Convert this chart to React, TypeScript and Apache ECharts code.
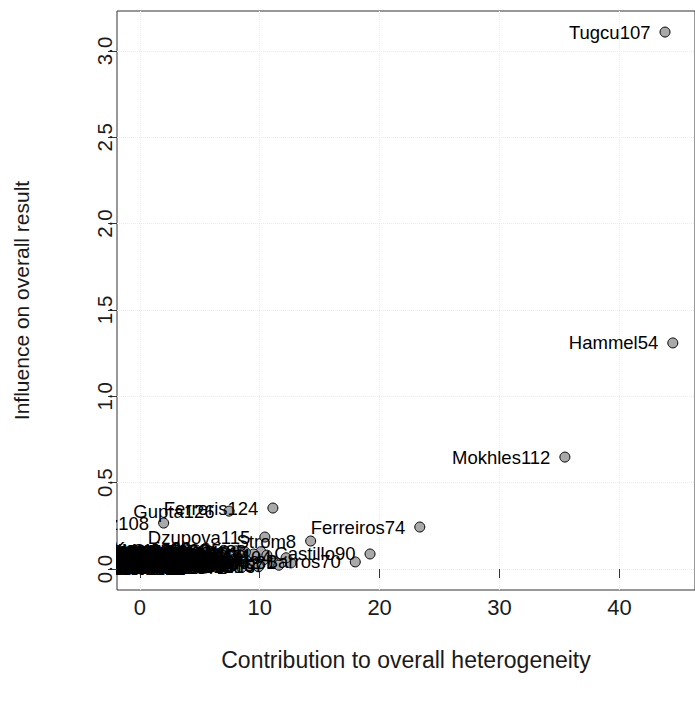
import React, { useEffect, useRef } from "react";
import * as echarts from "echarts";

// Study labels, contribution to heterogeneity (x) and influence on overall result (y)
const studlab = [
  "Abbas1", "Adams2", "Ahmed3", "Alvarez4", "Andersen5", "Baker6", "Becker7", "Strom8", "Bianchi9", "Brown10",
  "Carter11", "Chen12", "Costa13", "Cruz14", "Davis15", "Dubois16", "Eriksson17", "Evans18", "Fischer19", "Garcia20",
  "Gomez21", "Gonzalez22", "Hansen23", "Harris24", "Hoffmann25", "Huang26", "Ito27", "Jensen28", "Johnson29", "Jones30",
  "Kato31", "Kaya32", "Keller33", "Khan34", "Kim35", "Koenig36", "Kowalski37", "Kumar38", "Larsen39", "Laurent40",
  "Lee41", "Li42", "Liu43", "Lopez44", "Martin45", "Meyer46", "Miller47", "Moreno48", "Muller49", "Nakamura50",
  "Nguyen51", "Nielsen52", "Novak53", "Hammel54", "Olsen55", "Ortiz56", "Park57", "Patel58", "Perez59", "Petrov60",
  "Rossi61", "Russo62", "Sato63", "Schmidt64", "Schneider65", "Silva66", "Smith67", "Suzuki68", "Tanaka69", "Barros70",
  "Taylor71", "Thomas72", "Torres73", "Ferreiros74", "Wagner75", "Walker76", "Wang77", "Weber78", "White79", "Wilson80",
  "Wong81", "Wu82", "Yamamoto83", "Yang84", "Zhang85", "Zhao86", "Zhou87", "Ziegler88", "Arslan89", "Castillo90",
  "Bauer91", "Berg92", "Blanco93", "Bruno94", "Campos95", "Conti96", "Dahl97", "Diaz98", "Egger99", "Ferrari100",
  "Fuchs101", "Greco102", "Haas103", "Hernandez104", "Iqbal105", "Jung106", "Tugcu107", "Lorenz108", "Marino109", "Molina110",
  "Morales111", "Mokhles112", "Nowak113", "Ozturk114", "Dzupova115", "Pereira116", "Ramos117", "Reyes118", "Richter119", "Rojas120",
  "Santos121", "Serrano122", "Sousa123", "Ferreris124", "Vargas125", "Gupta126",
];

const heterogeneity = [
  0.42, 4.85, 0.15, 6.2, 2.88, 8.6, 0.05, 14.25, 5.4, 3.63,
  7.1, 1.28, 9.8, 4.2, 0.02, 6.7, 2.95, 5.9, 1.33, 9.1,
  4.55, 2.71, 7.6, 0.12, 5.1, 10.3, 3.48, 1.05, 6.45, 2.22,
  8.1, 3.58, 4.7, 0.09, 5.65, 5.5, 4.35, 1.77, 6.9, 0.18,
  8.7, 2.54, 5.25, 3.0, 7.4, 1.36, 9.6, 4.6, 0.07, 5.8,
  3.66, 8.9, 4.9, 44.45, 2.25, 6.1, 3.82, 9.2, 4.45, 1.4,
  5.5, 11.2, 3.93, 7.9, 0.14, 5.0, 11.6, 2.6, 6.6, 17.97,
  4.15, 8.5, 2.45, 23.35, 5.35, 9.4, 3.85, 4.75, 7.25, 1.2,
  12.6, 5.95, 2.52, 8.3, 4.25, 0.1, 6.3, 10.1, 3.7, 19.2,
  5.6, 1.3, 7.7, 4.4, 8.0, 2.8, 5.15, 0.55, 6.8, 3.1,
  9.5, 1.6, 5.75, 12.2, 4.95, 2.38, 43.8, 1.99, 7.0, 3.9,
  10.6, 35.45, 5.45, 8.4, 10.43, 2.55, 6.0, 4.3, 8.8, 1.16,
  9.9, 5.05, 4.65, 11.1, 7.5, 7.45,
];

const influence = [
  0.012, 0.034, 0.006, 0.052, 0.021, 0.071, 0.002, 0.162, 0.045, 0.015,
  0.038, 0.009, 0.058, 0.027, 0.001, 0.064, 0.011, 0.024, 0.018, 0.046,
  0.04, 0.031, 0.083, 0.004, 0.014, 0.052, 0.026, 0.008, 0.029, 0.013,
  0.042, 0.036, 0.061, 0.019, 0.072, 0.12, 0.022, 0.047, 0.017, 0.03,
  0.033, 0.005, 0.058, 0.068, 0.012, 0.044, 0.075, 0.003, 0.024, 0.088,
  0.056, 0.022, 0.01, 1.309, 0.07, 0.041, 0.078, 0.019, 0.053, 0.039,
  0.006, 0.035, 0.062, 0.055, 0.048, 0.082, 0.022, 0.016, 0.091, 0.041,
  0.045, 0.009, 0.06, 0.243, 0.037, 0.028, 0.1, 0.05, 0.066, 0.035,
  0.035, 0.011, 0.08, 0.094, 0.065, 0.057, 0.076, 0.1, 0.028, 0.087,
  0.02, 0.074, 0.026, 0.085, 0.105, 0.043, 0.098, 0.067, 0.079, 0.032,
  0.087, 0.09, 0.05, 0.065, 0.072, 0.084, 3.109, 0.266, 0.108, 0.11,
  0.08, 0.648, 0.115, 0.046, 0.185, 0.103, 0.1, 0.077, 0.097, 0.088,
  0.013, 0.004, 0.112, 0.353, 0.073, 0.335,
];

const xTicks = [0, 10, 20, 30, 40];
const yTicks = [0, 0.5, 1.0, 1.5, 2.0, 2.5, 3.0];

const FONT = "'Liberation Sans', Arial, Helvetica, sans-serif";

export default function App() {
  const ref = useRef<HTMLDivElement>(null);

  useEffect(() => {
    if (!ref.current) return;
    const chart = echarts.init(ref.current, undefined, { renderer: "svg" });
    const data = studlab.map((name, i) => ({ name, value: [heterogeneity[i], influence[i]] }));

    chart.setOption({
      animation: false,
      backgroundColor: "#ffffff",
      grid: {
        left: 117,
        top: 11,
        width: 582,
        height: 579,
        show: true,
        borderColor: "#333333",
        borderWidth: 1,
        backgroundColor: "transparent",
        containLabel: false,
      },
      xAxis: {
        type: "value",
        min: -1.9,
        max: 46.3,
        name: "Contribution to overall heterogeneity",
        nameLocation: "middle",
        nameGap: 58,
        nameTextStyle: { fontFamily: FONT, fontSize: 23, color: "#1a1a1a" },
        axisLine: { show: false },
        axisTick: {
          show: true,
          inside: false,
          length: 9,
          customValues: xTicks,
          lineStyle: { color: "#333333", width: 1 },
        },
        axisLabel: {
          customValues: xTicks,
          margin: 6,
          fontFamily: FONT,
          fontSize: 22,
          color: "#1a1a1a",
        },
        splitLine: {
          show: true,
          lineStyle: { color: "#ebebeb", type: "dotted", width: 1 },
        },
      },
      yAxis: [
        {
          type: "value",
          position: "left",
          min: -0.1216,
          max: 3.231,
          axisLine: { show: false },
          axisTick: { show: false, customValues: yTicks },
          axisLabel: { show: false, customValues: yTicks },
          splitLine: {
            show: true,
            lineStyle: { color: "#ebebeb", type: "dotted", width: 1 },
          },
        },
        {
          type: "value",
          position: "left",
          z: 10,
          min: -0.1216,
          max: 3.231,
          name: "Influence on overall result",
          nameLocation: "middle",
          nameGap: 85,
          nameRotate: 90,
          nameTextStyle: { fontFamily: FONT, fontSize: 21, color: "#1a1a1a" },
          axisLine: { show: false },
          axisTick: {
            show: true,
            inside: false,
            length: 9,
            customValues: yTicks,
            lineStyle: { color: "#333333", width: 1 },
          },
          axisLabel: {
            customValues: yTicks,
            rotate: 90,
            margin: 2,
            fontFamily: FONT,
            fontSize: 20.5,
            color: "#1a1a1a",
            formatter: (v: number) => v.toFixed(1),
          },
          splitLine: { show: false },
        },
      ],
      graphic: [
        {
          type: "rect",
          z: 5,
          silent: true,
          shape: { x: 0, y: 0, width: 116, height: 589 },
          style: { fill: "#ffffff" },
        },
      ],
      series: [
        {
          type: "scatter",
          yAxisIndex: 0,
          z: 2,
          clip: false,
          symbol: "circle",
          symbolSize: 10,
          itemStyle: { color: "#a9a9a9", borderColor: "#000000", borderWidth: 1, opacity: 1 },
          label: {
            show: true,
            position: "left",
            distance: 9,
            formatter: (p: any) => p.name,
            fontFamily: FONT,
            fontSize: 18.5,
            color: "#000000",
          },
          labelLayout: { hideOverlap: false },
          emphasis: { disabled: true },
          data,
        },
      ],
    });

    return () => {
      chart.dispose();
    };
  }, []);

  return (
    <div
      ref={ref}
      style={{ position: "fixed", left: 0, top: 0, width: 695, height: 707, background: "#fff" }}
    />
  );
}
